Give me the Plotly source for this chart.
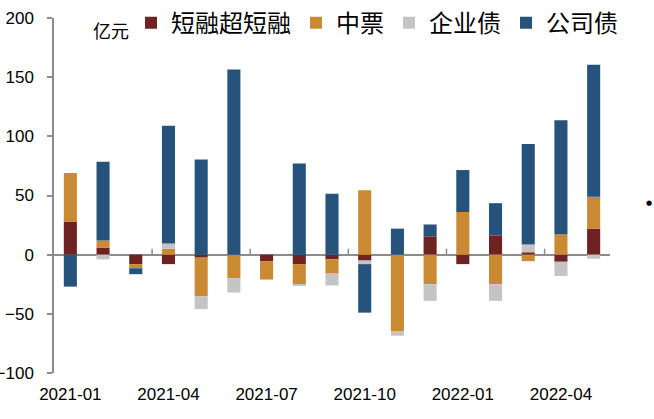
import plotly.graph_objects as go

months = ["2021-01", "2021-02", "2021-03", "2021-04", "2021-05", "2021-06",
          "2021-07", "2021-08", "2021-09", "2021-10", "2021-11", "2021-12",
          "2022-01", "2022-02", "2022-03", "2022-04", "2022-05"]

duanrong = [28, 6, -8, -8, -2.5, 0, -5.5, -8, -4, -5, 0, 15.5, -8, 16, 2, -6, 22]
zhongpiao = [41, 6, -3.5, 5, -32.5, -20, -15.5, -17, -12, 54.5, -64.5, -25, 36, -25, -5.5, 17, 27]
qiyezhai = [0, -4, 0, 4.5, -11, -12, 0, -1, -10, -3, -4, -14, 0, -14, 6.5, -12, -3.5]
gongsizhai = [-27, 66.5, -5, 99.5, 80.5, 156.5, 0, 77, 51.5, -41, 22, 10, 35.5, 27.5, 85, 96.5, 111.5]

series_names = ["短融超短融", "中票", "企业债", "公司债"]
series_values = [duanrong, zhongpiao, qiyezhai, gongsizhai]
series_colors = ["#6E2222", "#C98A33", "#C4C4C4", "#26537B"]

tick_months = months[::3]
n = len(months)
idx = list(range(n))
# quarter boundaries, where small tick marks sit on the zero line
boundary_ticks = [i - 0.5 for i in idx[3::3]]

fig = go.Figure()
for name, vals, color in zip(series_names, series_values, series_colors):
    fig.add_trace(go.Bar(x=idx, y=vals, name=name, marker_color=color,
                         marker_line_width=0))

tick_font = dict(family="Liberation Sans, Arial, sans-serif", size=17, color="#000000")
cjk_font = "Noto Sans CJK SC"
axis_gray = "#8C8C8C"

tick_shapes = [
    dict(type="line", xref="x", yref="y", x0=b, x1=b,
         ysizemode="pixel", yanchor=0, y0=0, y1=6,
         line=dict(color=axis_gray, width=1.5), layer="above")
    for b in boundary_ticks
]

fig.update_layout(
    width=654, height=419,
    margin=dict(l=54, r=44, t=18, b=46, autoexpand=False),
    paper_bgcolor="white", plot_bgcolor="white",
    barmode="relative", bargap=0.6,
    showlegend=True,
    legend=dict(orientation="h", xref="container", yref="container",
                x=0.2003, xanchor="left", y=0.945, yanchor="middle",
                font=dict(family=cjk_font, size=24, color="#000000"),
                bgcolor="rgba(0,0,0,0)", traceorder="normal",
                itemsizing="constant", tracegroupgap=0),
    xaxis=dict(range=[-0.5, n - 0.5], tickvals=idx[::3], ticktext=tick_months,
               showline=False, ticks="", showgrid=False, zeroline=False,
               tickfont=tick_font, ticklabelstandoff=9, automargin=False),
    yaxis=dict(range=[-100, 200], tickvals=[-100, -50, 0, 50, 100, 150, 200],
               showline=True, linecolor=axis_gray, linewidth=1.5,
               ticks="outside", ticklen=5, tickcolor=axis_gray, tickwidth=1.5,
               showgrid=False, zeroline=True, zerolinecolor=axis_gray, zerolinewidth=1.5,
               tickfont=tick_font, ticklabelstandoff=10, automargin=False),
    shapes=tick_shapes,
    annotations=[
        dict(text="亿元", xref="paper", yref="paper", x=0.1025, y=0.966,
             xanchor="center", yanchor="middle", showarrow=False,
             font=dict(family=cjk_font, size=18, color="#000000")),
        dict(text="●", xref="paper", yref="paper", x=1.071, y=0.479,
             xanchor="center", yanchor="middle", showarrow=False,
             font=dict(family="DejaVu Sans", size=7, color="#000000")),
    ],
)

fig.write_html("out.html", config={"displayModeBar": False},
               post_script="document.body.style.margin='0px';")
